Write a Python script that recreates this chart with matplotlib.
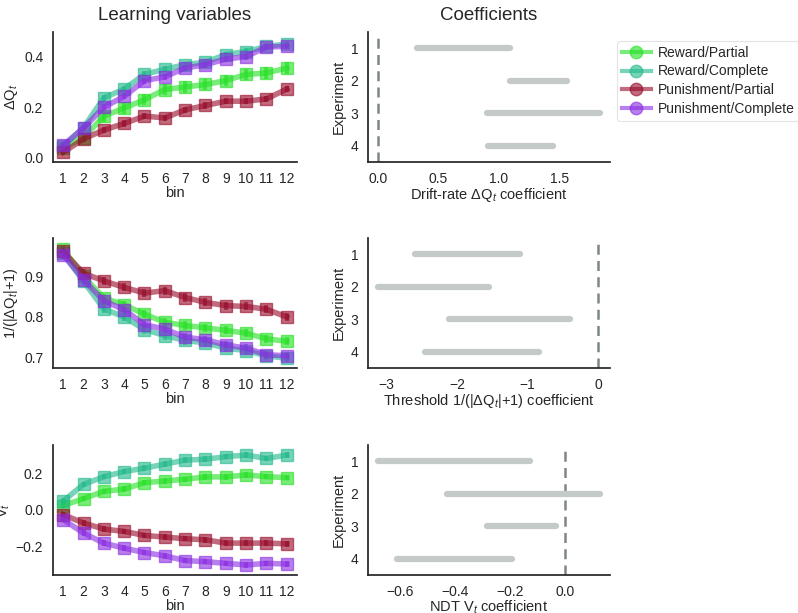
import numpy as np
import matplotlib
matplotlib.use("Agg")
import matplotlib.pyplot as plt
from matplotlib.lines import Line2D

# ---- data ----
bins = list(range(1, 13))
conditions = ["Reward/Partial", "Reward/Complete", "Punishment/Partial", "Punishment/Complete"]

dq = {
    "Reward/Partial":      [0.040, 0.080, 0.165, 0.197, 0.230, 0.270, 0.280, 0.290, 0.305, 0.330, 0.335, 0.355],
    "Reward/Complete":     [0.046, 0.120, 0.237, 0.272, 0.330, 0.350, 0.368, 0.378, 0.408, 0.420, 0.440, 0.450],
    "Punishment/Partial":  [0.022, 0.075, 0.110, 0.136, 0.165, 0.158, 0.190, 0.207, 0.224, 0.224, 0.233, 0.272],
    "Punishment/Complete": [0.050, 0.118, 0.200, 0.243, 0.305, 0.320, 0.355, 0.368, 0.390, 0.400, 0.438, 0.440],
}
inv = {
    "Reward/Partial":      [0.967, 0.900, 0.847, 0.830, 0.807, 0.787, 0.779, 0.773, 0.767, 0.760, 0.746, 0.740],
    "Reward/Complete":     [0.958, 0.888, 0.820, 0.800, 0.769, 0.754, 0.742, 0.736, 0.723, 0.717, 0.704, 0.698],
    "Punishment/Partial":  [0.962, 0.908, 0.889, 0.873, 0.859, 0.865, 0.848, 0.836, 0.828, 0.826, 0.819, 0.800],
    "Punishment/Complete": [0.953, 0.892, 0.840, 0.818, 0.781, 0.770, 0.750, 0.744, 0.731, 0.723, 0.707, 0.704],
}
vt = {
    "Reward/Partial":      [0.022, 0.060, 0.100, 0.112, 0.147, 0.157, 0.166, 0.179, 0.179, 0.190, 0.180, 0.175],
    "Reward/Complete":     [0.046, 0.138, 0.180, 0.208, 0.227, 0.249, 0.271, 0.276, 0.290, 0.299, 0.280, 0.299],
    "Punishment/Partial":  [-0.028, -0.074, -0.107, -0.120, -0.142, -0.151, -0.160, -0.166, -0.184, -0.184, -0.184, -0.188],
    "Punishment/Complete": [-0.055, -0.129, -0.184, -0.212, -0.236, -0.254, -0.280, -0.286, -0.295, -0.304, -0.295, -0.299],
}
# approximate standard errors per condition (top, middle, bottom panel)
err_dq  = [0.022, 0.012, 0.012, 0.012]
err_inv = [0.010, 0.010, 0.010, 0.010]
err_vt  = [0.015, 0.015, 0.015, 0.015]

experiments = [1, 2, 3, 4]
drift_lo = [0.318, 1.09, 0.898, 0.910]
drift_hi = [1.090, 1.565, 1.840, 1.450]
thr_lo   = [-2.59, -3.12, -2.11, -2.45]
thr_hi   = [-1.11, -1.55, -0.39, -0.84]
ndt_lo   = [-0.683, -0.430, -0.283, -0.612]
ndt_hi   = [-0.128, 0.130, -0.031, -0.192]

# ---- style ----
COLORS = {
    "Reward/Partial":      "#22e022",
    "Reward/Complete":     "#1fb88a",
    "Punishment/Partial":  "#960828",
    "Punishment/Complete": "#8a2be2",
}
INK = "#262626"
BAR = "#c4cac7"
DASH = "#7d8785"

plt.rcParams.update({
    "font.family": ["Liberation Sans", "DejaVu Sans"],
    "mathtext.fontset": "custom",
    "mathtext.rm": "Liberation Sans",
    "mathtext.it": "Liberation Sans:italic",
    "font.size": 10,
    "axes.edgecolor": INK,
    "axes.linewidth": 1.25,
    "text.color": INK,
    "axes.labelcolor": INK,
    "xtick.color": INK, "ytick.color": INK,
    "xtick.major.size": 0, "ytick.major.size": 0,
    "xtick.major.pad": 7, "ytick.major.pad": 7,
})

fig = plt.figure(figsize=(7.98, 6.13), dpi=100)
W, H = 798.0, 613.0
rows_top = [32, 238, 445]
ax_h = 130
left_axes, right_axes = [], []
for t in rows_top:
    b = (H - t - ax_h) / H
    left_axes.append(fig.add_axes([53 / W, b, 244 / W, ax_h / H]))
    right_axes.append(fig.add_axes([368 / W, b, 242 / W, ax_h / H]))

panels = [
    (dq, err_dq, r"$\Delta$Q$_t$", [0.0, 0.2, 0.4], (-0.016, 0.497)),
    (inv, err_inv, r"1/(|$\Delta$Q$_t$|+1)", [0.7, 0.8, 0.9], (0.674, 0.995)),
    (vt, err_vt, r"V$_t$", [-0.2, 0.0, 0.2], (-0.359, 0.354)),
]
for ax, (data, errs, ylab, yt, yl) in zip(left_axes, panels):
    for c, e in zip(conditions, errs):
        ax.errorbar(bins, data[c], yerr=e, color=COLORS[c], marker="s", ms=8,
                    lw=4, elinewidth=3, alpha=0.6, capsize=0, label=c)
    ax.set_xlim(0.5, 12.5)
    ax.set_ylim(*yl)
    ax.set_xticks(bins)
    ax.set_yticks(yt)
    ax.set_yticklabels([f"{v:.1f}".replace("-", "\u2212") for v in yt])
    ax.set_xlabel("bin", fontsize=10.5, labelpad=0)
    ax.set_ylabel(ylab, fontsize=10.5, labelpad=3)
    for s in ["top", "right"]:
        ax.spines[s].set_visible(False)
    ax.tick_params(labelsize=10)

coef = [
    (drift_lo, drift_hi, r"Drift-rate $\Delta$Q$_t$ coefficient", [0.0, 0.5, 1.0, 1.5], (-0.085, 1.92), "{:.1f}"),
    (thr_lo, thr_hi, r"Threshold 1/(|$\Delta$Q$_t$|+1) coefficient", [-3, -2, -1, 0], (-3.26, 0.17), "{:.0f}"),
    (ndt_lo, ndt_hi, r"NDT V$_t$ coefficient", [-0.6, -0.4, -0.2, 0.0], (-0.718, 0.165), "{:.1f}"),
]
for ax, (lo, hi, xlab, xt, xl, fmt) in zip(right_axes, coef):
    ax.hlines(experiments, lo, hi, color=BAR, lw=4.5, capstyle="round", zorder=2)
    ax.axvline(0, color=DASH, ls=(0, (4, 2.5)), lw=1.8, zorder=1)
    ax.set_xlim(*xl)
    ax.set_ylim(4.5, 0.5)
    ax.set_yticks(experiments)
    ax.set_xticks(xt)
    ax.set_xticklabels([fmt.format(v).replace("-", "\u2212") for v in xt])
    ax.set_xlabel(xlab, fontsize=10.5, labelpad=0)
    ax.set_ylabel("Experiment", fontsize=10.5, labelpad=3)
    for s in ["top", "right"]:
        ax.spines[s].set_visible(False)
    ax.tick_params(labelsize=10)

left_axes[0].set_title("Learning variables", fontsize=13.5, pad=9)
right_axes[0].set_title("Coefficients", fontsize=13.5, pad=9)

handles = [Line2D([0], [0], color=COLORS[c], marker="o", ms=9, lw=3, alpha=0.6, label=c)
           for c in conditions]
leg = fig.legend(handles=handles, loc="upper left", bbox_to_anchor=(614 / W, 1 - 38 / H),
                 frameon=True, fontsize=10, handlelength=2.1, handletextpad=0.5,
                 labelspacing=0.35, borderpad=0.35, borderaxespad=0.2, fancybox=True)
leg.get_frame().set_edgecolor("#dddddd")
leg.get_frame().set_linewidth(0.8)

fig.savefig("out.png", dpi=100, facecolor="white")
